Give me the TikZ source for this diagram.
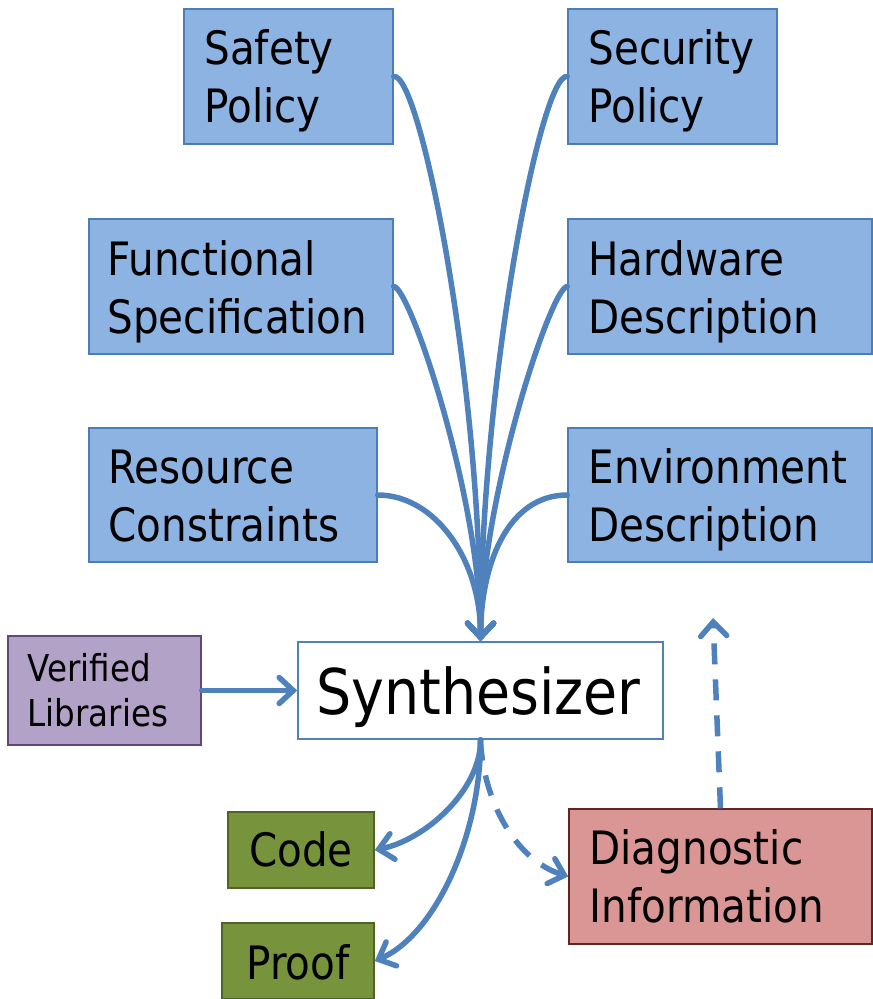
\documentclass[tikz,border=0pt]{standalone}
\usepackage{fontspec}
\setmainfont{DejaVu Sans}[FakeStretch=0.88]
\usetikzlibrary{arrows.meta,calc}
\definecolor{lineblue}{HTML}{4F81BD}
\definecolor{boxblue}{HTML}{8DB3E2}
\definecolor{boxblueb}{HTML}{4A7EBB}
\definecolor{purplef}{HTML}{B3A2C7}
\definecolor{purpleb}{HTML}{5F497A}
\definecolor{greenf}{HTML}{77933C}
\definecolor{greenb}{HTML}{4F6228}
\definecolor{redf}{HTML}{D99694}
\definecolor{redb}{HTML}{632523}
\tikzset{
  box/.style={line width=1.5pt, inner sep=0pt, rectangle},
  spec/.style={box, draw=boxblueb, fill=boxblue},
  libbox/.style={box, draw=purpleb, fill=purplef},
  synbox/.style={box, draw=lineblue, fill=white},
  outbox/.style={box, draw=greenb, fill=greenf},
  diagbox/.style={box, draw=redb, fill=redf},
  bigtxt/.style={anchor=base west, inner sep=0pt, align=left, text width=300pt,
    font=\fontsize{46}{58}\selectfont},
  libtxt/.style={anchor=base west, inner sep=0pt, align=left, text width=180pt,
    font=\fontsize{37}{45}\selectfont},
  ctrtxt/.style={anchor=base, inner sep=0pt, font=\fontsize{46}{58}\selectfont},
  syntxt/.style={anchor=base, inner sep=0pt, font=\fontsize{63}{70}\selectfont},
  conn/.style={draw=lineblue, line width=5.5pt, line cap=round,
    -{Straight Barb[length=14pt,width=26pt,line cap=round]}},
  dashconn/.style={conn, dash pattern=on 21pt off 15pt, line cap=butt},
}
\begin{document}
\begin{tikzpicture}[x=1pt,y=-1pt]
\useasboundingbox (0,0) rectangle (873,999);

% boxes
\node[spec, minimum width=209pt, minimum height=135pt] (safety) at (288.5,76.5) {};
\node[spec, minimum width=209pt, minimum height=135pt] (security) at (672.5,76.5) {};
\node[spec, minimum width=304pt, minimum height=135pt] (func) at (241,286.5) {};
\node[spec, minimum width=304pt, minimum height=135pt] (hw) at (720,286.5) {};
\node[spec, minimum width=288pt, minimum height=134pt] (res) at (233,495) {};
\node[spec, minimum width=304pt, minimum height=134pt] (env) at (720,495) {};
\node[libbox, minimum width=193pt, minimum height=109pt] (lib) at (104.5,690.5) {};
\node[synbox, minimum width=365pt, minimum height=97pt] (synth) at (480.5,690.5) {};
\node[outbox, minimum width=146pt, minimum height=76pt] (code) at (301,850) {};
\node[outbox, minimum width=152pt, minimum height=76pt] (proof) at (298,961) {};
\node[diagbox, minimum width=303pt, minimum height=135pt] (diag) at (720.5,876.5) {};

% texts
\node[bigtxt] (tsafety) at ($(safety.north west)+(21,56)$) {Safety\\Policy};
\node[bigtxt] (tsecurity) at ($(security.north west)+(21,56)$) {Security\\Policy};
\node[bigtxt] (tfunc) at ($(func.north west)+(19,57)$) {Functional\\Specification};
\node[bigtxt] (thw) at ($(hw.north west)+(21,57)$) {Hardware\\Description};
\node[bigtxt] (tres) at ($(res.north west)+(20,56)$) {Resource\\Constraints};
\node[bigtxt] (tenv) at ($(env.north west)+(21,56)$) {Environment\\Description};
\node[libtxt] (tlib) at ($(lib.north west)+(20,46)$) {Verified\\Libraries};
\node[syntxt] (tsynth) at ($(synth.north)+(-2,73)$) {Synthesizer};
\node[ctrtxt] (tcode) at ($(code.north)+(0,55)$) {Code};
\node[ctrtxt] (tproof) at ($(proof.north)+(0,57)$) {Proof};
\node[bigtxt] (tdiag) at ($(diag.north west)+(21,56)$) {Diagnostic\\Information};

\coordinate (fb) at (713,618);

% inputs to synthesizer
\draw[conn] (safety.east) .. controls (420,72) and (481,380) .. (synth.north);
\draw[conn] (func.east) .. controls (410,287) and (481,500) .. (synth.north);
\draw[conn] (res.east) .. controls (435,495) and (481,560) .. (synth.north);
\draw[conn] (security.west) .. controls (541,72) and (481,380) .. (synth.north);
\draw[conn] (hw.west) .. controls (551,287) and (481,500) .. (synth.north);
\draw[conn] (env.west) .. controls (510,495) and (481,560) .. (synth.north);

\draw[conn] (lib.east) -- (synth.west);

% outputs
\draw[conn] (synth.south) .. controls (481,790) and (425,840) .. (code.east);
\draw[conn] (synth.south) .. controls (481,835) and (435,935) .. (proof.east);
\draw[dashconn] (synth.south) .. controls (483,800) and (515,860) .. (diag.west);
\draw[dashconn] (diag.north) -- (fb);
\end{tikzpicture}
\end{document}
